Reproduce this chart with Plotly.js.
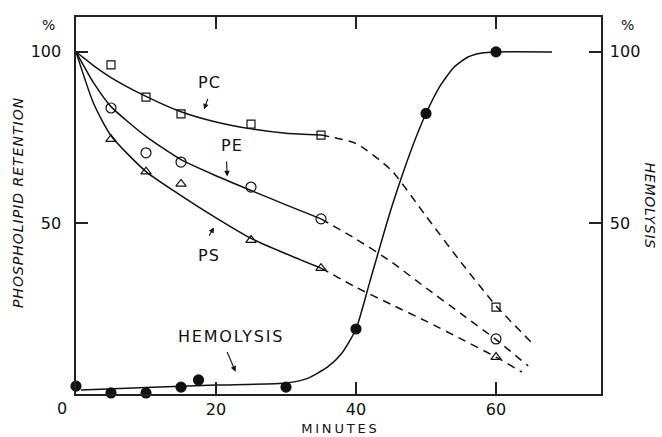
<!DOCTYPE html>
<html>
<head>
<meta charset="utf-8">
<script src="https://cdn.plot.ly/plotly-3.0.1.min.js"></script>
<style>
html,body{margin:0;padding:0;background:#fff;}
#chart{width:662px;height:437px;}
g.annotation[data-index="0"] text{letter-spacing:1px;}
g.annotation[data-index="1"] text{letter-spacing:0.8px;}
g.annotation[data-index="2"] text{letter-spacing:2.8px;}
g.annotation[data-index="6"] text,g.annotation[data-index="7"] text,g.annotation[data-index="8"] text{letter-spacing:1px;}
g.annotation[data-index="9"] text{letter-spacing:1.8px;}
</style>
</head>
<body>
<div id="chart"></div>
<script>
// ---- measured points ----
const pcMinutes = [5, 10, 15, 25, 35, 60];
const pcValues  = [96.2, 86.8, 81.9, 78.9, 75.7, 25.4];
const peMinutes = [5, 10, 15, 25, 35, 60];
const peValues  = [83.6, 70.5, 67.8, 60.5, 51.2, 16.1];
const psMinutes = [5, 10, 15, 25, 35, 60];
const psValues  = [74.5, 65.0, 61.4, 45.0, 36.8, 10.8];
const hemoMinutes = [0, 5, 10, 15, 17.5, 30, 40, 50, 60];
const hemoValues  = [2.3, 0.3, 0.3, 2.0, 4.1, 2.0, 19.0, 82.0, 100];

// ---- hand-drawn fitted curves ----
const pcCurveX = [0, 2.5, 5, 10, 15, 20, 25, 30, 35];
const pcCurveY = [100, 96, 92.5, 87, 82.5, 79.5, 77.5, 76.2, 75.7];
const pcDashX = [35, 40, 45, 50, 55, 60, 65.3];
const pcDashY = [75.7, 73.2, 65.5, 52, 38.5, 25.8, 14.6];
const peCurveX = [0, 2.5, 5, 10, 15, 20, 25, 30, 35];
const peCurveY = [100, 91, 84, 75.3, 68.5, 63.8, 59.5, 55.3, 51.2];
const peDashX = [35, 40, 45, 50, 55, 60, 64.6];
const peDashY = [51.2, 45.3, 38.7, 31, 23.5, 15.9, 8.2];
const psCurveX = [0, 2.5, 5, 10, 15, 20, 25, 30, 35];
const psCurveY = [100, 85, 75.5, 65, 58, 51.5, 45.5, 41, 36.8];
const psDashX = [35, 40, 45, 50, 55, 60, 63.7];
const psDashY = [36.8, 31.2, 26.2, 21.3, 16.1, 10.8, 6.4];
const hemoCurveX = [0.7, 10, 20, 30, 33, 36, 38, 40, 42, 45, 48, 50, 52, 54, 56, 58, 60, 68];
const hemoCurveY = [1.2, 1.9, 2.6, 3.2, 4.5, 8, 12, 19, 33, 54, 72, 82, 90, 95.5, 98.5, 99.7, 100, 100];

// ---- labels ----
const xTickVals = [20, 40, 60];
const xTickText = ['20', '40', '60'];
const yTickVals = [50, 100];
const yTickText = ['50', '100'];

const black = '#111';
const lineW = 1.5;
const fontFam = 'DejaVu Sans, sans-serif';

function curve(x, y, dash, axis) {
  return {x: x, y: y, type: 'scatter', mode: 'lines', yaxis: axis || 'y',
    line: {color: black, width: lineW, shape: 'spline', smoothing: 0.6, dash: dash || 'solid'},
    hoverinfo: 'skip', showlegend: false};
}
function pts(x, y, sym, size, axis) {
  return {x: x, y: y, type: 'scatter', mode: 'markers', yaxis: axis || 'y', cliponaxis: false,
    marker: {symbol: sym, size: size, color: black,
      line: {color: black, width: 1.2}}, showlegend: false};
}

const traces = [
  curve(pcCurveX, pcCurveY), curve(pcDashX, pcDashY, '8px,6px'),
  curve(peCurveX, peCurveY), curve(peDashX, peDashY, '8px,6px'),
  curve(psCurveX, psCurveY), curve(psDashX, psDashY, '8px,6px'),
  curve(hemoCurveX, hemoCurveY, 'solid', 'y2'),
  pts(pcMinutes, pcValues, 'square-open', 8),
  pts(peMinutes, peValues, 'circle-open', 10),
  pts(psMinutes, psValues, 'triangle-up-open', 9),
  pts(hemoMinutes, hemoValues, 'circle', 10, 'y2')
];

function arrow(hx, hy, tx, ty) {
  return {x: hx, y: hy, ax: tx, ay: ty, xref: 'x', yref: 'y', axref: 'x', ayref: 'y',
    text: '', showarrow: true, arrowhead: 2, arrowsize: 1, arrowwidth: 1.1,
    arrowcolor: black, standoff: 0, startstandoff: 0};
}
function lab(text, x, y, size) {
  return {text: text, x: x, y: y, xref: 'x', yref: 'y', showarrow: false,
    font: {family: fontFam, size: size || 16, color: black}, xanchor: 'center', yanchor: 'middle'};
}

const annotations = [
  {text: 'PHOSPHOLIPID RETENTION', xref: 'paper', yref: 'paper', x: -0.1105, y: 0.509,
   textangle: -90, showarrow: false, xanchor: 'center', yanchor: 'middle',
   font: {family: fontFam, size: 14, style: 'italic', color: black}},
  {text: 'HEMOLYSIS', xref: 'paper', yref: 'paper', x: 1.0933, y: 0.4987,
   textangle: 90, showarrow: false, xanchor: 'center', yanchor: 'middle',
   font: {family: fontFam, size: 14, style: 'italic', color: black}},
  {text: 'MINUTES', xref: 'paper', yref: 'paper', x: 0.503, y: -0.0915,
   showarrow: false, xanchor: 'center', yanchor: 'middle',
   font: {family: fontFam, size: 13, color: black}},
  {text: '0', xref: 'paper', yref: 'paper', x: -0.0267, y: -0.0385,
   showarrow: false, xanchor: 'center', yanchor: 'middle',
   font: {family: fontFam, size: 16, color: black}},
  {text: '%', xref: 'paper', yref: 'paper', x: -0.0533, y: 0.9788,
   showarrow: false, xanchor: 'center', yanchor: 'middle',
   font: {family: fontFam, size: 14, color: black}},
  {text: '%', xref: 'paper', yref: 'paper', x: 1.0514, y: 0.9788,
   showarrow: false, xanchor: 'center', yanchor: 'middle',
   font: {family: fontFam, size: 14, color: black}},
  lab('PC', 19, 91.2),
  lab('PE', 22.3, 72.5),
  lab('PS', 19, 40.4),
  lab('HEMOLYSIS', 22.1, 16.7),
  arrow(18.3, 83.2, 18.9, 86.7),
  arrow(21.6, 63.6, 21.5, 68.4),
  arrow(19.7, 48.7, 18.9, 45.8),
  arrow(22.8, 6.5, 21.5, 12.7)
];

const axisCommon = {showgrid: false, zeroline: false, showline: true, linecolor: '#222', linewidth: 1.6,
  ticks: 'inside', ticklen: 12, tickwidth: 1.4, tickcolor: '#222',
  tickfont: {family: fontFam, size: 16, color: black}};

const layout = {
  width: 662, height: 437,
  margin: {l: 76, r: 61, t: 17, b: 43, pad: 0},
  paper_bgcolor: '#fff', plot_bgcolor: '#fff',
  showlegend: false,
  xaxis: Object.assign({}, axisCommon, {range: [0, 75], tickvals: xTickVals, ticktext: xTickText,
    mirror: 'ticks', ticklabelstandoff: 0}),
  yaxis: Object.assign({}, axisCommon, {range: [0, 110.2], tickvals: yTickVals, ticktext: yTickText,
    ticklabelstandoff: 10}),
  yaxis2: Object.assign({}, axisCommon, {range: [0, 110.2], tickvals: yTickVals, ticktext: yTickText,
    overlaying: 'y', side: 'right', ticklabelstandoff: 4}),
  annotations: annotations
};

Plotly.newPlot('chart', traces, layout, {displayModeBar: false, staticPlot: true});
</script>
</body>
</html>
